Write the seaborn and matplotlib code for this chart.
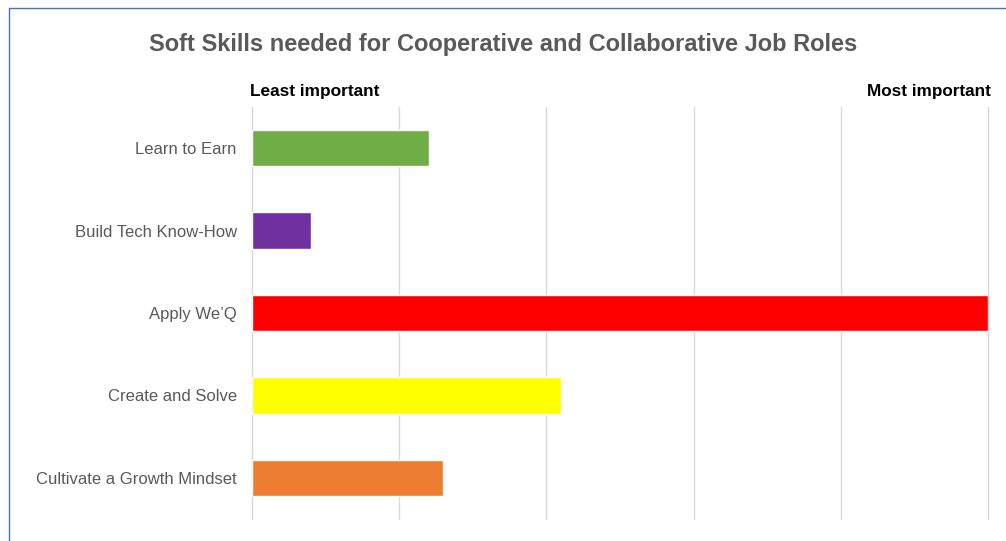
import matplotlib
matplotlib.use("Agg")
import matplotlib.pyplot as plt
import seaborn as sns
import pandas as pd
from matplotlib.lines import Line2D

categories = ["Learn to Earn", "Build Tech Know-How", "Apply We\u2019Q", "Create and Solve", "Cultivate a Growth Mindset"]
values = [1.2, 0.4, 5.0, 2.1, 1.3]
colors = ["#70AD47", "#7030A0", "#FF0000", "#FFFF00", "#ED7D31"]
x_ticks = [0, 1, 2, 3, 4, 5]

sns.set_theme(style="white")
plt.rcParams['font.family'] = ['Liberation Sans', 'DejaVu Sans']

df = pd.DataFrame({"skill": categories, "value": values})

fig = plt.figure(figsize=(10.06, 5.41), dpi=100)
ax = fig.add_axes([252/1006, 22/541, (988-252)/1006, (519-107)/541])
sns.barplot(data=df, y="skill", x="value", hue="skill", palette=colors,
            legend=False, width=0.44, ax=ax, saturation=1)

ax.set_xlim(0, 5)
ax.set_xticks(x_ticks)
ax.set_xticklabels([])
ax.grid(axis="x", color="#D9D9D9", linewidth=1)
for gl in ax.get_xgridlines():
    gl.set_clip_on(False)
ax.set_axisbelow(True)
for s in ax.spines.values():
    s.set_visible(False)
ax.set_xlabel("")
ax.set_ylabel("")
ax.tick_params(axis="y", length=0, pad=11, labelsize=12, labelcolor="#595959")
ax.tick_params(axis="x", length=0)

fig.text(503/1006, 1 - 45/541, "Soft Skills needed for Cooperative and Collaborative Job Roles",
         ha="center", va="center", fontsize=17, fontweight="bold", color="#595959")
fig.text(250/1006, 1 - 92/541, "Least important", ha="left", va="center",
         fontsize=12.4, fontweight="bold", color="#000000")
fig.text(991/1006, 1 - 92/541, "Most important", ha="right", va="center",
         fontsize=12.3, fontweight="bold", color="#000000")

# chart frame (top and left edges visible)
fig.add_artist(Line2D([9/1006, 1], [1 - 8/541, 1 - 8/541], transform=fig.transFigure,
                      color="#4472C4", linewidth=1))
fig.add_artist(Line2D([9/1006, 9/1006], [0, 1 - 8/541], transform=fig.transFigure,
                      color="#4472C4", linewidth=1))

fig.savefig("out.png", dpi=100)
